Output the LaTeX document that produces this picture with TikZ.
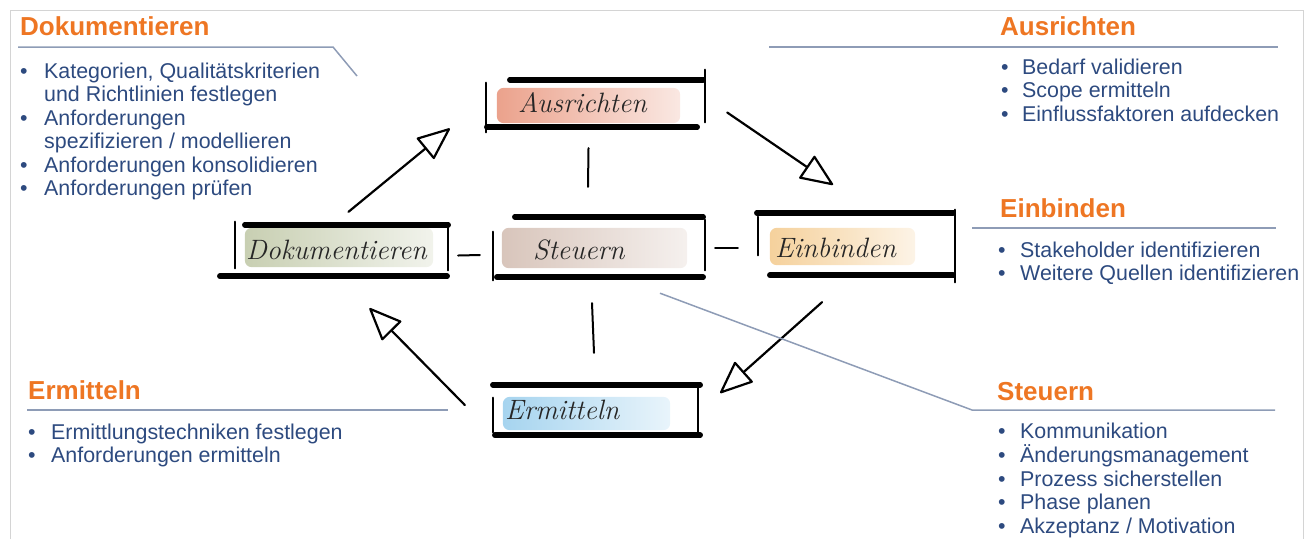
\documentclass[tikz,border=0pt]{standalone}
\usepackage{fontspec}
\usepackage{xcolor}
\usepackage{tikz}
\usetikzlibrary{arrows.meta}

\newfontfamily\listfont{Liberation Sans}

\definecolor{headorange}{HTML}{EE7623}
\definecolor{itemblue}{HTML}{2D4A7F}
\definecolor{rulegray}{HTML}{8E9CB6}
\definecolor{framegray}{HTML}{D4D4D4}
\definecolor{washausr}{HTML}{EBA28C}
\definecolor{washsteu}{HTML}{D8C5BB}
\definecolor{washeinb}{HTML}{F5D19C}
\definecolor{washdoku}{HTML}{C8CFB2}
\definecolor{washermi}{HTML}{A6D4EF}

\tikzset{
  head/.style={anchor=base west, inner sep=0pt, text=headorange,
    font=\listfont\bfseries\fontsize{26}{30}\selectfont},
  items/.style={anchor=base west, inner sep=0pt, text=itemblue,
    font=\listfont\fontsize{21.4}{23.5}\selectfont},
  hand/.style={anchor=west, inner sep=0pt, text=black!85,
    font=\itshape\fontsize{28}{28}\selectfont},
  sketchbox/.style={inner sep=0pt},
  heavy/.style={line width=5.5pt, line cap=round},
  light/.style={line width=2.5pt, line cap=round},
  link/.style={line width=2pt, line cap=round},
  flow/.style={line width=2.2pt, line cap=round,
    -{Triangle[open, length=34pt, width=28pt, round]}},
  rule/.style={rulegray, line width=1.5pt},
  wash/.style={rounded corners=7pt}
}

\begin{document}
\begin{tikzpicture}[x=1pt, y=-1pt]
\useasboundingbox (0,0) rectangle (1309,539);
\draw[framegray, line width=1pt] (10,539) -- (10,10) -- (1303,10) -- (1303,539);

\node[sketchbox, minimum width=219pt, minimum height=47pt] (ausr) at (595.5,103.5) {};
\node[sketchbox, minimum width=212pt, minimum height=60pt] (steu) at (599,248) {};
\node[sketchbox, minimum width=196pt, minimum height=64pt] (einb) at (856,245) {};
\node[sketchbox, minimum width=213pt, minimum height=51pt] (doku) at (341.5,250.5) {};
\node[sketchbox, minimum width=206pt, minimum height=50pt] (ermi) at (596,410) {};

\shade[wash, left color=washausr, middle color=washausr, right color=washausr!25]
  ([shift={(11,8)}]ausr.north west) rectangle ([shift={(-25,-4)}]ausr.south east);
\shade[wash, left color=washsteu, middle color=washsteu, right color=washsteu!25]
  ([shift={(9,10)}]steu.north west) rectangle ([shift={(-18,-10)}]steu.south east);
\shade[wash, left color=washeinb, middle color=washeinb, right color=washeinb!25]
  ([shift={(12,15)}]einb.north west) rectangle ([shift={(-39,-12)}]einb.south east);
\shade[wash, left color=washdoku, middle color=washdoku, right color=washdoku!25]
  ([shift={(10,3)}]doku.north west) rectangle ([shift={(-15,-9)}]doku.south east);
\shade[wash, left color=washermi, middle color=washermi, right color=washermi!25]
  ([shift={(10,12)}]ermi.north west) rectangle ([shift={(-29,-5)}]ermi.south east);

\draw[light] ([shift={(0,3)}]ausr.north west) -- ([shift={(0,5)}]ausr.south west);
\draw[heavy] ([shift={(24,0)}]ausr.north west) -- ([shift={(-2,0)}]ausr.north east);
\draw[light] ([shift={(0,-10)}]ausr.north east) -- ([shift={(0,-5)}]ausr.south east);
\draw[heavy] ([shift={(1,0)}]ausr.south west) -- ([shift={(-8,0)}]ausr.south east);

\draw[light] ([shift={(0,14)}]steu.north west) -- ([shift={(0,2)}]steu.south west);
\draw[heavy] ([shift={(22,-1)}]steu.north west) -- ([shift={(-2,-1)}]steu.north east);
\draw[light] ([shift={(0,2)}]steu.north east) -- ([shift={(0,-8)}]steu.south east);
\draw[heavy] ([shift={(4,-1)}]steu.south west) -- ([shift={(-2,-1)}]steu.south east);

\draw[light] ([shift={(0,4)}]einb.north west) -- ([shift={(0,-22)}]einb.south west);
\draw[heavy] ([shift={(-1,0)}]einb.north west) -- ([shift={(-1,0)}]einb.north east);
\draw[light] ([shift={(1,-3)}]einb.north east) -- ([shift={(1,5)}]einb.south east);
\draw[heavy] ([shift={(12,-2)}]einb.south west) -- ([shift={(-1,-2)}]einb.south east);

\draw[light] ([shift={(0,-3)}]doku.north west) -- ([shift={(0,-8)}]doku.south west);
\draw[heavy] ([shift={(10,0)}]doku.north west) -- (doku.north east);
\draw[light] (doku.north east) -- ([shift={(0,-6)}]doku.south east);
\draw[heavy] ([shift={(-15,0)}]doku.south west) -- ([shift={(-1,0)}]doku.south east);

\draw[light] ([shift={(0,13)}]ermi.north west) -- ([shift={(0,-3)}]ermi.south west);
\draw[heavy] (ermi.north west) -- ([shift={(1,0)}]ermi.north east);
\draw[light] ([shift={(-1,0)}]ermi.north east) -- ([shift={(-1,-2)}]ermi.south east);
\draw[heavy] ([shift={(2,0)}]ermi.south west) -- ([shift={(1,0)}]ermi.south east);

\node[hand] (ausr-t) at (518,103) {Ausrichten};
\node[hand] (steu-t) at (533,250) {Steuern};
\node[hand] (einb-t) at (775,248) {Einbinden};
\node[hand] (doku-t) at (246,250) {Dokumentieren};
\node[hand] (ermi-t) at (505,410) {Ermitteln};

\draw[link] ([shift={(-7,21)}]ausr.south) -- ([shift={(-11,-31)}]steu.north);
\draw[link] ([shift={(-7,25)}]steu.south) -- ([shift={(-2,-32)}]ermi.north);
\draw[link] ([shift={(10,5)}]doku.east) -- ([shift={(-13,7)}]steu.west);
\draw[link] ([shift={(10,0)}]steu.east) -- ([shift={(-20,3)}]einb.west);

\draw[flow] ([shift={(7,-13)}]doku.north) -- ([shift={(-36,25)}]ausr.west);
\draw[flow] ([shift={(22,9)}]ausr.east) -- ([shift={(-23,-28)}]einb.north);
\draw[flow] ([shift={(-34,25)}]einb.south) -- ([shift={(21,-17)}]ermi.east);
\draw[flow] ([shift={(-28,-5)}]ermi.west) -- ([shift={(28,32)}]doku.south);

\node[head] (doku-h) at (20,35) {Dokumentieren};
\draw[rule] (18,47) -- (333,47) -- (357,76);
\node[items] (doku-l) at (20,78) {\begin{tabular}[t]{@{}p{24pt}@{}l@{}}
\textbullet & Kategorien, Qualitätskriterien\\
 & und Richtlinien festlegen\\
\textbullet & Anforderungen\\
 & spezifizieren / modellieren\\
\textbullet & Anforderungen konsolidieren\\
\textbullet & Anforderungen prüfen
\end{tabular}};

\node[head] (ausr-h) at (1000,35) {Ausrichten};
\draw[rule] (769,47) -- (1278,47);
\node[items] (ausr-l) at (1001,74) {\begin{tabular}[t]{@{}p{21pt}@{}l@{}}
\textbullet & Bedarf validieren\\
\textbullet & Scope ermitteln\\
\textbullet & Einflussfaktoren aufdecken
\end{tabular}};

\node[head] (einb-h) at (1000,217) {Einbinden};
\draw[rule] (972,228) -- (1276,228);
\node[items] (einb-l) at (998,257) {\begin{tabular}[t]{@{}p{22pt}@{}l@{}}
\textbullet & Stakeholder identifizieren\\
\textbullet & Weitere Quellen identifizieren
\end{tabular}};

\node[head] (ermi-h) at (28,399) {Ermitteln};
\draw[rule] (27,410) -- (448,410);
\node[items] (ermi-l) at (28,439) {\begin{tabular}[t]{@{}p{23pt}@{}l@{}}
\textbullet & Ermittlungstechniken festlegen\\
\textbullet & Anforderungen ermitteln
\end{tabular}};

\node[head] (steu-h) at (997,400) {Steuern};
\draw[rule] ([shift={(61,15)}]steu.south) -- (972,410) -- (1275,410);
\node[items] (steu-l) at (998,438) {\begin{tabular}[t]{@{}p{22pt}@{}l@{}}
\textbullet & Kommunikation\\
\textbullet & Änderungsmanagement\\
\textbullet & Prozess sicherstellen\\
\textbullet & Phase planen\\
\textbullet & Akzeptanz / Motivation
\end{tabular}};
\end{tikzpicture}
\end{document}
